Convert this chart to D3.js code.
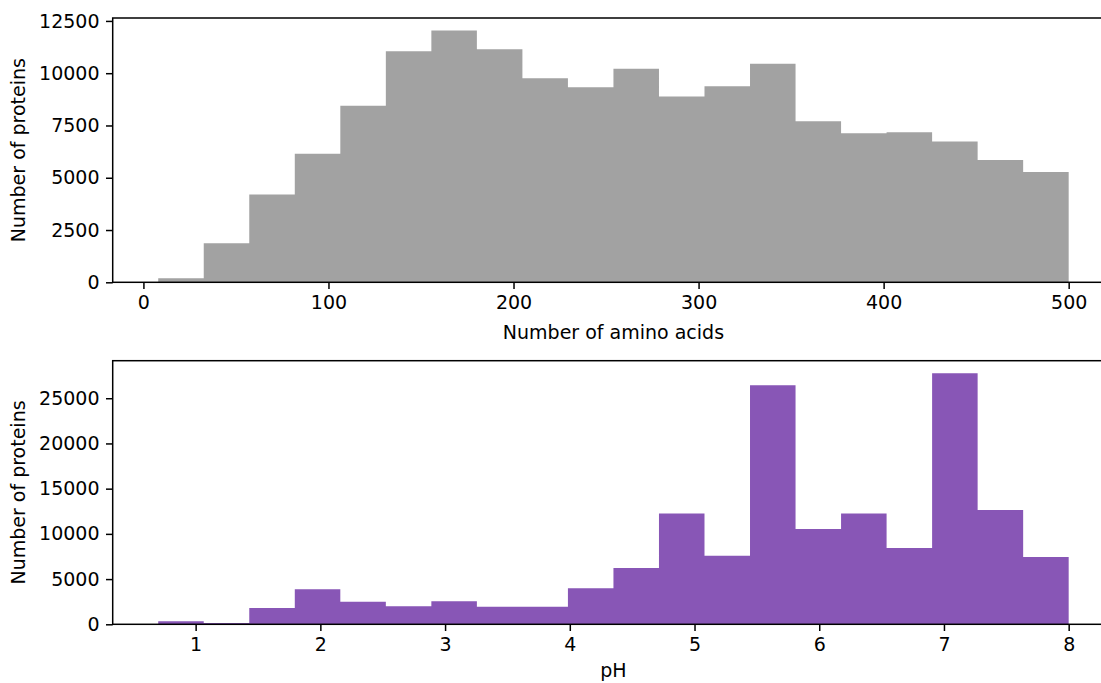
<!DOCTYPE html>
<html>
<head>
<meta charset="utf-8">
<script src="https://cdn.jsdelivr.net/npm/d3@7"></script>
<style>
  html, body { margin: 0; padding: 0; background: #fff; }
  svg { display: block; }
  text { font-family: "DejaVu Sans", sans-serif; fill: #000; }
</style>
</head>
<body>
<svg id="chart" width="1101" height="683"></svg>
<script>
// Protein length histogram: 20 bins spanning 8..500 amino acids
const lengthRange = [8, 500];
const lengthCounts = [191, 1863, 4204, 6147, 8440, 11051, 12038, 11147, 9761, 9331,
                      10207, 8886, 9379, 10446, 7707, 7134, 7182, 6736, 5844, 5271];
const lengthTicks = [0, 100, 200, 300, 400, 500];
const countTicksTop = [0, 2500, 5000, 7500, 10000, 12500];

// Isoelectric point histogram: 20 bins spanning pH 0.7..8
const phRange = [0.7, 8];
const phCounts = [331, 147, 1804, 3866, 2504, 1988, 2541, 1951, 1951, 3977,
                  6223, 12261, 7585, 26437, 10531, 12261, 8432, 27762, 12629, 7438];
const phTicks = [1, 2, 3, 4, 5, 6, 7, 8];
const countTicksBottom = [0, 5000, 10000, 15000, 20000, 25000];

const svg = d3.select("#chart");
const FONT = 19;
const TICK = 6.7;

function histogram(cfg) {
  const { range, counts, xTicks, yTicks, color, box, xLabel, yLabel } = cfg;
  const n = counts.length;
  const step = (range[1] - range[0]) / n;
  const bins = counts.map((c, i) => ({
    x0: range[0] + i * step,
    x1: range[0] + (i + 1) * step,
    count: c
  }));
  // 5% padding on x, 5% headroom on y
  const pad = (range[1] - range[0]) * 0.05;
  const x = d3.scaleLinear().domain([range[0] - pad, range[1] + pad]).range([box.left, box.right]);
  const y = d3.scaleLinear().domain([0, d3.max(counts) * 1.05]).range([box.bottom, box.top]);

  const g = svg.append("g");

  // bars drawn as one stepped area so adjacent bins share edges seamlessly
  const steps = bins.map(b => ({ x: b.x0, count: b.count }));
  steps.push({ x: bins[n - 1].x1, count: bins[n - 1].count });
  const area = d3.area()
    .x(d => x(d.x))
    .y0(y(0))
    .y1(d => y(d.count))
    .curve(d3.curveStepAfter);
  g.append("path")
    .datum(steps)
    .attr("d", area)
    .attr("fill", color);

  // frame
  g.append("rect")
    .attr("x", box.left).attr("y", box.top)
    .attr("width", box.right - box.left).attr("height", box.bottom - box.top)
    .attr("fill", "none").attr("stroke", "#000").attr("stroke-width", 1.5);

  const xAxis = g.append("g")
    .attr("transform", `translate(0,${box.bottom})`)
    .call(d3.axisBottom(x).tickValues(xTicks).tickSize(TICK).tickPadding(6.5).tickFormat(d3.format("d")));
  const yAxis = g.append("g")
    .attr("transform", `translate(${box.left},0)`)
    .call(d3.axisLeft(y).tickValues(yTicks).tickSize(TICK).tickPadding(6.5).tickFormat(d3.format("d")));

  [xAxis, yAxis].forEach(a => {
    a.select(".domain").remove();
    a.selectAll(".tick line").attr("stroke", "#000").attr("stroke-width", 1.5);
    a.selectAll(".tick text").attr("font-size", FONT).attr("font-family", "DejaVu Sans").attr("fill", "#000");
  });

  g.append("text")
    .attr("x", (box.left + box.right) / 2)
    .attr("y", xLabel.y)
    .attr("text-anchor", "middle")
    .attr("font-size", FONT)
    .text(xLabel.text);

  g.append("text")
    .attr("transform", `translate(${yLabel.x},${(box.top + box.bottom) / 2}) rotate(-90)`)
    .attr("text-anchor", "middle")
    .attr("font-size", FONT)
    .text(yLabel.text);
}

histogram({
  range: lengthRange, counts: lengthCounts, xTicks: lengthTicks, yTicks: countTicksTop,
  color: "#a2a2a2",
  box: { left: 112.7, right: 1114.2, top: 18, bottom: 282.3 },
  xLabel: { text: "Number of amino acids", y: 339 },
  yLabel: { text: "Number of proteins", x: 25 }
});

histogram({
  range: phRange, counts: phCounts, xTicks: phTicks, yTicks: countTicksBottom,
  color: "#8856b6",
  box: { left: 112.7, right: 1114.2, top: 360.7, bottom: 624.3 },
  xLabel: { text: "pH", y: 677 },
  yLabel: { text: "Number of proteins", x: 25 }
});
</script>
</body>
</html>
